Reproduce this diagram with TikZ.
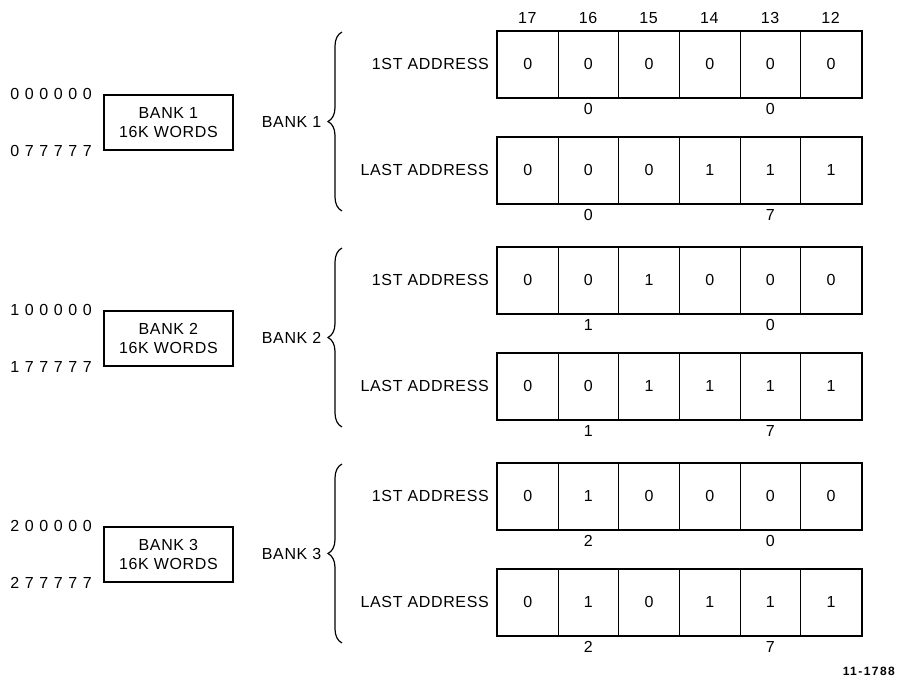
\documentclass[tikz,border=0pt]{standalone}
\usepackage{fontspec}
\setmainfont{Liberation Sans}[LetterSpace=4]
\newfontfamily\addrfont{Liberation Sans}[LetterSpace=35]
\newfontfamily\figfont{Liberation Sans}[LetterSpace=12]
\usetikzlibrary{decorations.pathreplacing}

\begin{document}
\begin{tikzpicture}[x=1pt, y=-1pt,
    txt/.style={font=\fontsize{16}{18}\selectfont, inner sep=0pt},
    bit/.style={draw, line width=0.8pt, minimum width=60.67pt, minimum height=66pt, inner sep=0pt, font=\fontsize{16}{18}\selectfont},
    regframe/.style={line width=1.8pt},
    bankbox/.style={draw, line width=1.8pt, minimum width=129pt, minimum height=55pt, inner sep=0pt, align=center, font=\fontsize{16}{19}\selectfont},
    addr/.style={font=\addrfont\fontsize{16}{18}\selectfont, anchor=east, inner sep=0pt},
    bankbrace/.style={decorate, decoration={brace, amplitude=14pt}, line width=1.2pt},
]
\useasboundingbox (0,0) rectangle (900,677);

% bit numbers
\foreach \b [count=\i from 0] in {17,16,15,14,13,12}
    \node[txt] (col\b) at (527.3+60.67*\i, 18) {\b};

% address registers
\foreach \r/\y/\lab/\bits/\hi/\lo in {
        b1f/31/1ST/{0,0,0,0,0,0}/0/0,
        b1l/137/LAST/{0,0,0,1,1,1}/0/7,
        b2f/247/1ST/{0,0,1,0,0,0}/1/0,
        b2l/353/LAST/{0,0,1,1,1,1}/1/7,
        b3f/463/1ST/{0,1,0,0,0,0}/2/0,
        b3l/569/LAST/{0,1,0,1,1,1}/2/7} {
    \foreach \v [count=\i from 0] in \bits
        \node[bit, anchor=north west] (\r-\i) at (497+60.67*\i, \y) {\v};
    \draw[regframe] (\r-0.north west) rectangle (\r-5.south east);
    \node[txt, anchor=east] (\r-lab) at ([xshift=-8pt]\r-0.west) {\lab\ ADDRESS};
    \node[txt] (\r-hi) at ([yshift=-11pt]\r-1.south) {\hi};
    \node[txt] (\r-lo) at ([yshift=-11pt]\r-4.south) {\lo};
}

% banks
\foreach \n/\y/\first/\last in {1/0/000000/077777, 2/216/100000/177777, 3/432/200000/277777} {
    \node[bankbox, anchor=north west] (box\n) at (103, 94+\y) {BANK \n\\16K WORDS};
    \node[addr] (start\n) at ([xshift=-11pt]box\n.north west) {\first};
    \node[addr] (end\n) at ([xshift=-11pt]box\n.south west) {\last};
    \coordinate (top\n) at (342, 32+\y);
    \coordinate (bot\n) at (342, 211+\y);
    \draw[bankbrace] (bot\n) -- (top\n) node[txt, midway, anchor=east, xshift=-20pt] (lbl\n) {BANK \n};
}

\node[font=\figfont\fontsize{12}{14}\selectfont\bfseries, inner sep=0pt, anchor=east] (fig) at (895, 671) {11-1788};
\end{tikzpicture}
\end{document}
